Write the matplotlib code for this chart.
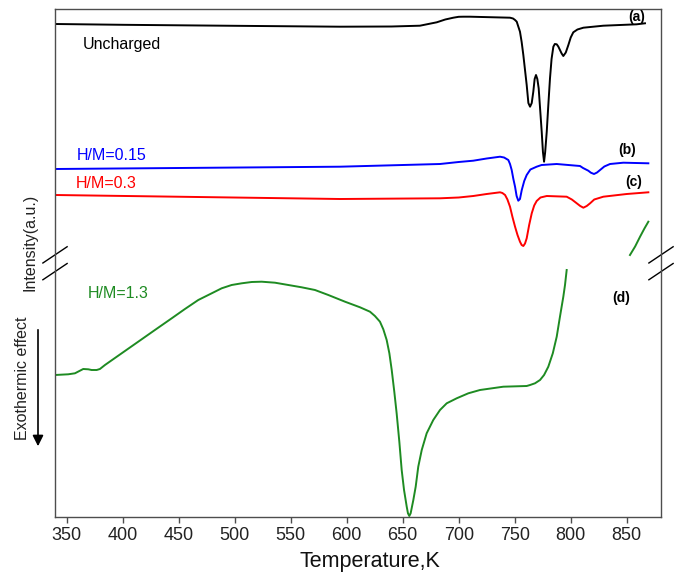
import matplotlib
matplotlib.use("Agg")
import matplotlib.pyplot as plt
import numpy as np

plt.rcParams['font.family'] = ['Liberation Sans', 'DejaVu Sans']

# DSC curves, arbitrary offset intensity units
t_a = [340, 400, 500, 594, 640, 665.4, 680.4, 688, 695.2, 700, 704.1, 710, 745.8,
       748.5, 750.3, 751.8, 754.7, 756.2, 757.7, 759.2, 760.7, 762.2, 763.7, 765.2,
       766.6, 767.8, 769.0, 770.2, 771.4, 774.1, 775.2, 776.2, 777.2, 778.6, 779.9,
       781.5, 782.9, 784.5, 785.8, 787.5, 788.9, 790.4, 791.9, 793.4, 795.6, 797.9,
       800, 802.3, 806, 811.3, 829.1, 858.9, 866.3]
y_a = [493.0, 492.2, 491.2, 490.3, 490.5, 491.3, 494.7, 497.5, 499.3, 500.2, 500.3, 500.3, 499.3,
       498.5, 497.0, 495.3, 485.3, 475.0, 462.0, 447.0, 432.0, 414.0, 410.3, 414.0,
       425.3, 438.0, 442.0, 438.0, 428.7, 385.3, 365.0, 355.3, 365.0, 385.3, 410.0,
       438.7, 458.0, 470.3, 473.0, 472.7, 470.5, 467.0, 463.5, 461.0, 464.5, 472.0,
       479.5, 484.7, 487.5, 489.3, 491.3, 492.7, 493.7]

t_b = [339.6, 450, 594, 683.3, 700, 713, 725, 736.9, 740.5, 744.3, 745.8, 747.3, 748.8,
       750.3, 751.7, 753.2, 754.7, 756.3, 758.5, 760.7, 764, 769.6, 774, 787.5, 808.3,
       811, 815.7, 818, 820.8, 823.5, 826.2, 830, 835.1, 847, 869.3]
y_b = [348.0, 349.0, 350.3, 353.0, 355.0, 356.3, 358.5, 360.3, 359.5, 357.0, 353.0, 347.0, 338.0,
       330.3, 321.0, 316.3, 318.0, 327.0, 336.0, 342.0, 347.5, 350.3, 352.0, 353.0, 351.0,
       349.0, 346.3, 344.3, 343.0, 344.5, 347.0, 350.5, 353.0, 354.3, 353.7]

t_c = [339.6, 594, 683.3, 700, 713, 725, 736.9, 739, 741.4, 743.5, 745.8, 748, 750.3,
       752.5, 754.7, 756.2, 757.7, 759.2, 760.7, 762.9, 765.2, 767.4, 769.6, 773, 778.6,
       796.4, 801, 805.4, 808.5, 811.3, 814.3, 817.3, 821, 829.1, 850, 869.3]
y_c = [322.0, 318.0, 318.7, 319.5, 321.0, 323.0, 324.7, 324.0, 322.0, 317.5, 310.3, 300.0, 290.3,
       282.0, 275.3, 272.0, 271.0, 273.5, 278.7, 292.0, 303.7, 311.5, 316.0, 319.5, 321.0,
       320.3, 317.5, 313.7, 311.0, 309.3, 311.0, 313.7, 317.5, 320.3, 323.0, 324.7]

t_d = [339.6, 351.4, 357.4, 364.8, 369.3, 372.3, 376.8, 379.7, 384.2, 399.1, 413.9,
       428.8, 443.8, 455.6, 467.5, 479.5, 488.4, 497.3, 506.3, 515.2, 524.1, 536,
       547.9, 559.8, 571.7, 583.6, 598.5, 611.9, 620.8, 625.2, 629.7, 632.7, 635.7,
       638.1, 640.2, 642.5, 644.6, 647, 649.1, 651.2, 653.6, 654.7, 655.9, 657.1,
       659.5, 661.6, 663.9, 667, 671.4, 677.3, 683.3, 689.3, 698.2, 708.6, 719,
       739.8, 760.7, 763.7, 768.1, 772.6, 776.2, 780, 784, 787.5, 790.4, 793.4,
       794.9, 796.4]
y_d = [142.0, 142.7, 143.7, 148.0, 147.7, 147.0, 147.0, 148.0, 152.0, 163.7, 175.3,
       187.0, 198.7, 208.0, 217.0, 223.7, 228.7, 232.0, 233.7, 235.0, 235.3, 234.3,
       232.0, 229.7, 227.0, 222.0, 215.3, 209.7, 205.3, 201.0, 195.3, 187.7, 177.0,
       163.7, 147.0, 125.3, 103.7, 75.3, 47.0, 27.0, 10.3, 3.7, 1.0, 3.7,
       17.0, 30.3, 50.3, 67.0, 83.7, 97.0, 107.0, 113.7, 118.7, 123.7, 127.0,
       130.3, 131.0, 132.0, 133.7, 137.0, 142.0, 150.3, 163.7, 180.3, 200.3, 220.3,
       232.0, 247.0]
# part of curve (d) shown after the axis break
t_d2 = [852.9, 857.5, 861.9, 865.8, 869.3]
y_d2 = [262.0, 270.5, 280.3, 288.5, 295.3]

xticks = [350, 400, 450, 500, 550, 600, 650, 700, 750, 800, 850]

green = '#1e8b22'
fig = plt.figure(figsize=(6.78, 5.75), dpi=100)
ax = fig.add_axes([55 / 678, 58 / 575, 606 / 678, 508 / 575])

ax.plot(t_a, y_a, color='black', lw=1.4)
ax.plot(t_b, y_b, color='#0000ff', lw=1.4)
ax.plot(t_c, y_c, color='#ff0000', lw=1.4)
ax.plot(t_d, y_d, color=green, lw=1.4)
ax.plot(t_d2, y_d2, color=green, lw=1.4)

ax.set_xlim(339.6, 880.6)
ax.set_ylim(0, 508)
ax.set_xticks(xticks)
ax.set_yticks([])
ax.tick_params(axis='x', direction='out', length=4, width=1, color='#4d4d4d',
               labelsize=13, pad=3, labelcolor='#222222')
for s in ax.spines.values():
    s.set_color('#4d4d4d')
    s.set_linewidth(1.0)

ax.set_xlabel('Temperature,K', fontsize=15.5, va='center', color='#111111')
ax.xaxis.set_label_coords(0.52, -0.088)

# curve labels
ax.text(364.6, 472, 'Uncharged', fontsize=11.5, va='center', color='black')
ax.text(359.2, 362, 'H/M=0.15', fontsize=11.5, va='center', color='#0000ff')
ax.text(358.4, 333, 'H/M=0.3', fontsize=11.5, va='center', color='#ff0000')
ax.text(369, 224, 'H/M=1.3', fontsize=11.5, va='center', color=green)
ax.text(851, 500, '(a)', fontsize=10, fontweight='bold', va='center')
ax.text(842, 367, '(b)', fontsize=10, fontweight='bold', va='center')
ax.text(848.5, 335, '(c)', fontsize=10, fontweight='bold', va='center')
ax.text(836.9, 219, '(d)', fontsize=10, fontweight='bold', va='center')

# axis break marks
for xb in (0, 1):
    for yb in (0.516, 0.483):
        ax.plot([xb - 0.02, xb + 0.02], [yb - 0.016, yb + 0.016], color='black',
                lw=1.0, transform=ax.transAxes, clip_on=False)

fig.text(30 / 678, 1 - 242 / 575, 'Intensity(a.u.)', rotation=90, fontsize=11.5,
         ha='center', va='center', color='#222222')
fig.text(23 / 678, 1 - 378 / 575, 'Exothermic effect', rotation=90, fontsize=11.5,
         ha='center', va='center', color='#222222')
fig.add_artist(matplotlib.patches.FancyArrowPatch(
    (38 / 678, 1 - 327 / 575), (38 / 678, 1 - 449 / 575),
    transform=fig.transFigure, arrowstyle='-|>', mutation_scale=16,
    color='black', lw=1.2))

fig.savefig('out.png', dpi=100)
